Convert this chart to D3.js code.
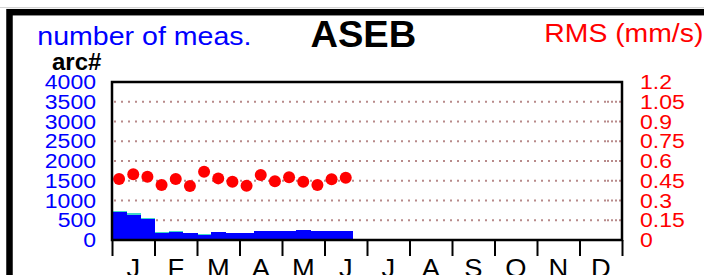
<!DOCTYPE html>
<html><head><meta charset="utf-8">
<script src="https://cdn.jsdelivr.net/npm/d3@7"></script>
<style>html,body{margin:0;padding:0;background:#fff;overflow:hidden}</style>
</head><body>
<script>
const months = ["J","F","M","A","M","J","J","A","S","O","N","D"];
const countTicks = [0,500,1000,1500,2000,2500,3000,3500,4000];
const rmsTicks = [0,0.15,0.3,0.45,0.6,0.75,0.9,1.05,1.2];
const rmsTickLabels = ["0","0.15","0.3","0.45","0.6","0.75","0.9","1.05","1.2"];
// per ~10-day bin (3 per month), Jan 1 .. Jun 20
const measCount = [716,635,527,185,215,177,127,205,185,185,228,228,228,253,228,228,228];
const measTotal = [745,685,550,210,222,182,158,208,188,188,231,231,231,256,231,231,231];
const rmsValues = [0.463,0.499,0.481,0.418,0.463,0.410,0.519,0.468,0.443,0.412,0.494,0.446,0.476,0.443,0.418,0.461,0.473];

const W=704,H=275;
const FONT='"Liberation Sans", Arial, Helvetica, sans-serif';
const svg = d3.select("body").append("svg").attr("width",W).attr("height",H);
const L=112,R=622,T=82,B=240;
const xM = d3.scaleLinear().domain([0,12]).range([L,R]);
const yC = d3.scaleLinear().domain([0,4000]).range([B,T]);
const yR = d3.scaleLinear().domain([0,1.2]).range([B,T]);

// top thin gray line & outer frame
svg.append("line").attr("x1",0).attr("x2",W).attr("y1",7.5).attr("y2",7.5).attr("stroke","#d4d4d4").attr("stroke-width",1);
svg.append("rect").attr("x",9.5).attr("y",12.2).attr("width",900).attr("height",500)
  .attr("fill","none").attr("stroke","#000").attr("stroke-width",6.5);

function txt(x,y,s,o){
  return svg.append("text")
    .attr("transform",`translate(${x},${y}) scale(${o.sx||1},1)`)
    .attr("font-family",FONT).attr("font-size",o.size)
    .attr("font-weight",o.bold?"bold":"normal")
    .attr("fill",o.fill||"#000").attr("text-anchor",o.anchor||"start")
    .text(s);
}

// grid
const gridVals = countTicks.filter(v=>v>0&&v<4000);
svg.append("g").selectAll("line").data(gridVals).join("line")
  .attr("x1",L+2).attr("x2",R-16).attr("y1",d=>yC(d)).attr("y2",d=>yC(d))
  .attr("stroke","#b88a8a").attr("stroke-width",2).attr("stroke-dasharray","2,5");
svg.append("g").selectAll("line").data(gridVals).join("line")
  .attr("x1",R-15).attr("x2",R-1).attr("y1",d=>yC(d)).attr("y2",d=>yC(d))
  .attr("stroke","#b88a8a").attr("stroke-width",2).attr("stroke-dasharray","2,2");

// bars
const binW = (xM(1)-xM(0))/3;
svg.append("g").attr("shape-rendering","crispEdges").selectAll("rect").data(measTotal).join("rect")
  .attr("x",(d,i)=>xM(i/3)).attr("width",binW+0.6)
  .attr("y",d=>yC(d)).attr("height",d=>B-yC(d)).attr("fill","#40d8c8");
svg.append("g").attr("shape-rendering","crispEdges").selectAll("rect").data(measCount).join("rect")
  .attr("x",(d,i)=>xM(i/3)).attr("width",binW+0.6)
  .attr("y",d=>yC(d)).attr("height",d=>B-yC(d)).attr("fill","#0000ff");

// points
svg.append("g").selectAll("circle").data(rmsValues).join("circle")
  .attr("cx",(d,i)=>xM((i+0.5)/3)).attr("cy",d=>yR(d)).attr("r",6).attr("fill","#ff0000");

// plot frame
svg.append("rect").attr("x",L).attr("y",T).attr("width",R-L).attr("height",B-T)
  .attr("fill","none").attr("stroke","#000").attr("stroke-width",2.5);

// x ticks
const xAxis = svg.append("g").attr("transform",`translate(0,${B})`)
  .call(d3.axisBottom(xM).tickValues(d3.range(13)).tickSize(16).tickFormat(""));
xAxis.select(".domain").remove();
xAxis.selectAll(".tick line").attr("stroke","#000").attr("stroke-width",2);

// month labels
months.forEach((m,i)=>txt(xM(i+0.5),276.5,m,{size:26,sx:1.05,anchor:"middle"}));

// left tick labels
countTicks.forEach(v=>txt(96,yC(v)+7.2,String(v),{size:19.5,sx:1.18,anchor:"end",fill:"#0000ff"}));
// right tick labels
rmsTicks.forEach((v,i)=>txt(640,yR(v)+7.2,rmsTickLabels[i],{size:19.5,sx:1.18,anchor:"start",fill:"#ff0000"}));

// titles
txt(37.3,45,"number of meas.",{size:25.5,sx:1.12,fill:"#0000ff"});
txt(363.3,46.7,"ASEB",{size:37,sx:1.03,bold:true,anchor:"middle"});
txt(544.3,41.7,"RMS (mm/s)",{size:26.5,sx:1.07,fill:"#ff0000"});
txt(52,69.5,"arc#",{size:24,bold:true});
</script>
</body></html>
